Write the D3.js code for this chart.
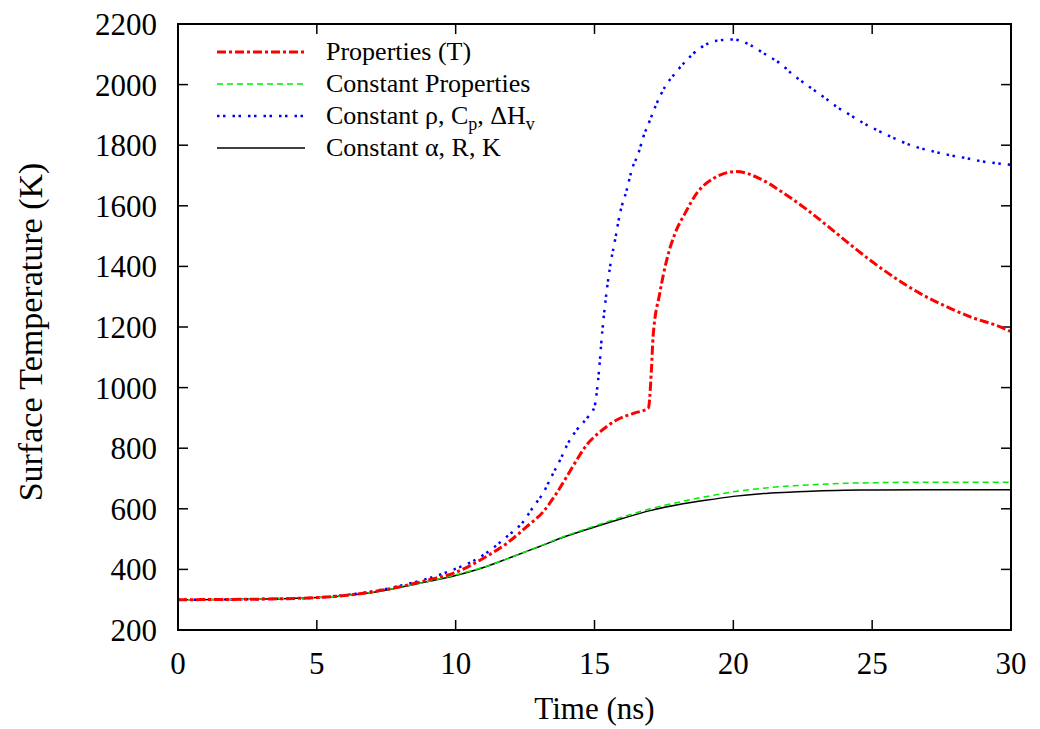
<!DOCTYPE html>
<html>
<head>
<meta charset="utf-8">
<script src="https://cdn.jsdelivr.net/npm/d3@7"></script>
<style>
  body { margin: 0; background: #fff; }
  svg text, svg tspan { font-family: "Liberation Serif", "DejaVu Serif", serif; fill: #000; }
</style>
</head>
<body>
<div id="chart"></div>
<script>
// data
var xTicks = [0, 5, 10, 15, 20, 25, 30];
var yTicks = [200, 400, 600, 800, 1000, 1200, 1400, 1600, 1800, 2000, 2200];

var tProp = [0, 3, 5, 6, 7, 8, 9, 10, 11, 11.84, 12.56, 13.15, 13.63, 14, 14.36, 14.72, 15.2, 15.8, 16.4, 16.94, 17.05, 17.11, 17.35, 17.6, 17.9, 18.26, 18.68, 19.28, 20.1, 20.95, 21.68, 22.64, 23.36, 24.08, 24.92, 25.76, 26.72, 27.68, 28.64, 29.48, 30];
var vProp = [300, 302, 307, 314, 326, 343, 365, 390, 437, 486, 541, 590, 651, 706, 761, 811, 854, 893, 915, 932, 1058, 1168, 1311, 1421, 1509, 1575, 1641, 1690, 1713, 1690, 1650, 1588, 1536, 1482, 1421, 1366, 1311, 1267, 1230, 1205, 1185];

var tConst = [0, 2, 4, 5, 6, 7, 8, 9, 10, 11, 12, 13, 14, 15, 16, 17, 18, 19, 20, 21, 22, 23, 24, 25, 27, 30];
var vConst = [300, 301, 304, 307, 313, 324, 341, 360, 382, 407, 440, 476, 512, 543, 573, 600, 621, 640, 656, 667, 675, 680, 684, 686, 688, 688];

var tRho = [0, 3, 5, 6, 7, 8, 9, 9.8, 10.87, 11.84, 12.43, 12.8, 13.15, 13.45, 13.76, 14.05, 14.36, 14.77, 15.0, 15.13, 15.28, 15.56, 15.74, 15.92, 16.16, 16.34, 16.58, 16.76, 17.0, 17.24, 17.54, 17.9, 18.32, 18.8, 19.4, 20.0, 20.6, 21.08, 21.68, 22.16, 22.64, 23.24, 23.72, 24.2, 24.8, 25.28, 25.88, 26.48, 27.08, 27.74, 28.4, 29.0, 29.72, 30];
var vRho = [300, 302, 307, 315, 327, 346, 370, 395, 440, 508, 557, 607, 652, 706, 761, 817, 860, 904, 937, 1025, 1185, 1399, 1487, 1576, 1652, 1718, 1773, 1828, 1883, 1938, 1993, 2037, 2081, 2120, 2145, 2149, 2131, 2104, 2070, 2032, 1999, 1960, 1927, 1900, 1867, 1845, 1819, 1797, 1782, 1768, 1757, 1746, 1738, 1735];

var tAlpha = [0, 2, 4, 5, 6, 7, 8, 9, 10, 11, 12, 13, 14, 15, 16, 17, 18, 19, 20, 21, 22, 23, 24, 25, 27, 30];
var vAlpha = [300, 301, 304, 307, 313, 324, 341, 360, 380, 406, 440, 475, 510, 540, 568, 594, 613, 628, 641, 650, 655, 659, 661, 662, 663, 663];

var width = 1040, height = 729;
var margin = {left: 178, right: 29, top: 24, bottom: 99};
var serif = "Liberation Serif, DejaVu Serif, serif";

var svg = d3.select("#chart").append("svg")
  .attr("width", width)
  .attr("height", height)
  .attr("font-family", serif);

var x = d3.scaleLinear().domain([0, 30]).range([margin.left, width - margin.right]);
var y = d3.scaleLinear().domain([200, 2200]).range([height - margin.bottom, margin.top]);

function zip(ts, vs) {
  return ts.map(function(t, i) { return [t, vs[i]]; });
}

var series = [
  {name: "Properties (T)", data: zip(tProp, vProp), color: "#ff0000", w: 3, dash: "9,3,3,3"},
  {name: "Constant Properties", data: zip(tConst, vConst), color: "#00ee00", w: 1.5, dash: "6,4"},
  {name: "rho", data: zip(tRho, vRho), color: "#0000ff", w: 2.5, dash: "2.5,3.5,2.5,7"},
  {name: "Constant \u03b1, R, K", data: zip(tAlpha, vAlpha), color: "#000000", w: 1.5, dash: null}
];

var line = d3.line()
  .x(function(d) { return x(d[0]); })
  .y(function(d) { return y(d[1]); })
  .curve(d3.curveMonotoneX);

// ticks, mirrored on all sides, pointing inward
var tickLen = 10;
var x0 = x(0), x1 = x(30), y0 = y(200), y1 = y(2200);

var axes = svg.append("g").attr("stroke", "#000").attr("stroke-width", 1.5);
xTicks.forEach(function(t) {
  axes.append("line").attr("x1", x(t)).attr("x2", x(t)).attr("y1", y0).attr("y2", y0 - tickLen);
  axes.append("line").attr("x1", x(t)).attr("x2", x(t)).attr("y1", y1).attr("y2", y1 + tickLen);
});
yTicks.forEach(function(v) {
  axes.append("line").attr("x1", x0).attr("x2", x0 + tickLen).attr("y1", y(v)).attr("y2", y(v));
  axes.append("line").attr("x1", x1).attr("x2", x1 - tickLen).attr("y1", y(v)).attr("y2", y(v));
});

svg.selectAll(".xlab")
  .data(xTicks)
  .enter()
  .append("text")
  .attr("x", function(d) { return x(d); })
  .attr("y", 674)
  .attr("text-anchor", "middle")
  .attr("font-size", 31)
  .text(function(d) { return d; });

svg.selectAll(".ylab")
  .data(yTicks)
  .enter()
  .append("text")
  .attr("x", 157)
  .attr("y", function(d) { return y(d) + 11; })
  .attr("text-anchor", "end")
  .attr("font-size", 31)
  .text(function(d) { return d; });

svg.append("text")
  .attr("x", (x0 + x1) / 2)
  .attr("y", 719)
  .attr("text-anchor", "middle")
  .attr("font-size", 31)
  .text("Time (ns)");

svg.append("text")
  .attr("transform", "translate(42,332) rotate(-90)")
  .attr("text-anchor", "middle")
  .attr("font-size", 34)
  .text("Surface Temperature (K)");

// curves
svg.append("clipPath").attr("id", "clip")
  .append("rect").attr("x", x0).attr("y", y1).attr("width", x1 - x0).attr("height", y0 - y1);

svg.append("g").attr("clip-path", "url(#clip)")
  .selectAll("path")
  .data(series.slice().reverse())
  .enter()
  .append("path")
  .attr("d", function(d) { return line(d.data); })
  .attr("fill", "none")
  .attr("stroke", function(d) { return d.color; })
  .attr("stroke-width", function(d) { return d.w; })
  .attr("stroke-dasharray", function(d) { return d.dash; });

// frame
svg.append("rect")
  .attr("x", x0).attr("y", y1)
  .attr("width", x1 - x0).attr("height", y0 - y1)
  .attr("fill", "none")
  .attr("stroke", "#000")
  .attr("stroke-width", 2);

// legend
var legend = svg.append("g");
series.forEach(function(s, i) {
  var ly = 52 + i * 32;
  legend.append("line")
    .attr("x1", 217).attr("x2", 305)
    .attr("y1", ly).attr("y2", ly)
    .attr("stroke", s.color)
    .attr("stroke-width", s.w)
    .attr("stroke-dasharray", s.dash);
  var t = legend.append("text")
    .attr("x", 326)
    .attr("y", ly + 8)
    .attr("font-size", 26);
  if (s.name === "rho") {
    t.append("tspan").text("Constant \u03c1, C");
    t.append("tspan").attr("font-size", 18).attr("dy", 6).text("p");
    t.append("tspan").attr("dy", -6).text(", \u0394H");
    t.append("tspan").attr("font-size", 18).attr("dy", 6).text("v");
  } else {
    t.text(s.name);
  }
});
</script>
</body>
</html>
